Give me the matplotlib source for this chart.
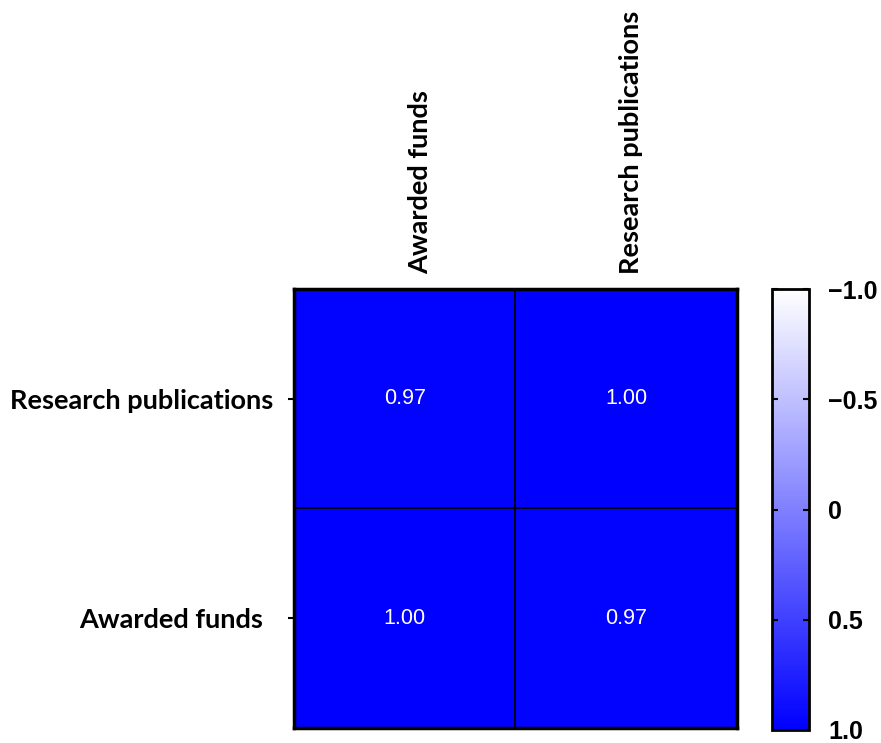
import matplotlib.pyplot as plt
import numpy as np
from matplotlib.colors import LinearSegmentedColormap
from matplotlib.transforms import ScaledTranslation

# correlation matrix, rows top to bottom, columns left to right
row_labels = ['Research publications', 'Awarded funds']
col_labels = ['Awarded funds', 'Research publications']
corr = np.array([
    [0.97, 1.00],
    [1.00, 0.97],
])
cbar_ticks = [-1.0, -0.5, 0.0, 0.5, 1.0]
cbar_ticklabels = ['\u22121.0', '\u22120.5', '0', '0.5', '1.0']

cmap = LinearSegmentedColormap.from_list('wb', ['#ffffff', '#0000ff'])

fig = plt.figure(figsize=(8.81, 7.43), dpi=100)
ax = fig.add_axes([0.3337, 0.0202, 0.5028, 0.591])
cax = fig.add_axes([0.8763, 0.0175, 0.042, 0.5935])

im = ax.imshow(corr, cmap=cmap, vmin=-1, vmax=1, aspect='auto')

# cell borders
ax.axhline(0.5, color='black', lw=1.3)
ax.axvline(0.5, color='black', lw=1.3)

for i in range(corr.shape[0]):
    for j in range(corr.shape[1]):
        ax.text(j, i, '%.2f' % corr[i, j], ha='center', va='center',
                color='white', fontsize=15.5, family='Liberation Sans')

ax.set_yticks(range(len(row_labels)))
ax.set_yticklabels(row_labels, fontsize=19.5, fontweight='bold', family='Lato')
ax.tick_params(axis='y', length=4, width=1.5, pad=11)
# nudge the lower label a little to the left
ylabs = ax.get_yticklabels()
ylabs[1].set_transform(ylabs[1].get_transform()
                       + ScaledTranslation(-10 / 100, 0, fig.dpi_scale_trans))

ax.set_xticks(range(len(col_labels)))
ax.set_xticklabels(col_labels, rotation=90, fontsize=19.5, fontweight='bold',
                   family='Lato')
ax.xaxis.tick_top()
ax.tick_params(axis='x', length=0, pad=11)
for lab, dx in zip(ax.get_xticklabels(), [15, 5]):
    lab.set_transform(lab.get_transform()
                      + ScaledTranslation(dx / 100, 0, fig.dpi_scale_trans))
for spine in ax.spines.values():
    spine.set_linewidth(2.5)

cb = fig.colorbar(im, cax=cax)
cb.set_ticks(cbar_ticks)
cb.set_ticklabels(cbar_ticklabels)
cax.invert_yaxis()
cb.outline.set_linewidth(2)
cax.tick_params(axis='y', direction='in', length=4, width=1.5,
                left=True, right=True, pad=14)
for lab in cax.get_yticklabels():
    lab.set_fontsize(18)
    lab.set_fontweight('bold')
    lab.set_family('Liberation Sans')

fig.savefig('out.png', dpi=100)
